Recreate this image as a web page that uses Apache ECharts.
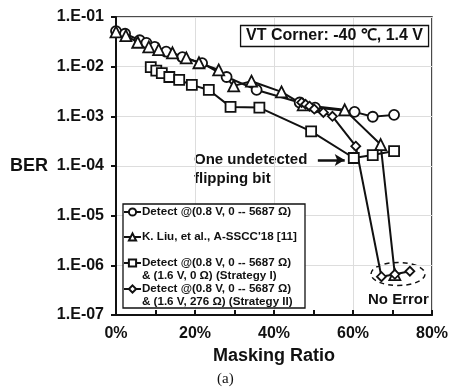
<!DOCTYPE html>
<html><head><meta charset="utf-8">
<script src="https://cdn.jsdelivr.net/npm/echarts@6/dist/echarts.min.js"></script>
<style>html,body{margin:0;padding:0;background:#fff}#c{width:451px;height:389px}</style>
</head><body><div id="c"></div>
<script>
// ---- data ----
const seriesNames = [
  'Detect @(0.8 V, 0 -- 5687 Ω)',
  'K. Liu, et al., A-SSCC\'18 [11]',
  'Detect @(0.8 V, 0 -- 5687 Ω)\n& (1.6 V, 0 Ω) (Strategy I)',
  'Detect @(0.8 V, 0 -- 5687 Ω)\n& (1.6 V, 276 Ω) (Strategy II)'
];
// [masking ratio %, BER]
const detectCircle = [[0,5.2e-2],[2.3,4.6e-2],[6,3.4e-2],[7.7,3.0e-2],[9.8,2.5e-2],[12.7,2.0e-2],[16.8,1.55e-2],[21.8,1.18e-2],[28,6.2e-3],[35.6,3.4e-3],[46.5,1.9e-3],[50.4,1.5e-3],[60.4,1.23e-3],[65,9.8e-4],[70.4,1.07e-3]];
const liuTriangle = [[0,5.0e-2],[2.5,4.2e-2],[5.5,3.1e-2],[8.3,2.5e-2],[10.8,2.2e-2],[14.3,1.9e-2],[17.8,1.5e-2],[21,1.2e-2],[26,8.6e-3],[29.8,4.1e-3],[34.3,5.1e-3],[41.9,3.1e-3],[47.4,1.7e-3],[57.9,1.35e-3],[67,2.7e-4],[70.6,6.5e-7]];
const strategy1Square = [[8.8,9.8e-3],[10.2,8.3e-3],[11.6,7.4e-3],[13.5,6.2e-3],[16,5.4e-3],[19.2,4.3e-3],[23.5,3.4e-3],[29,1.55e-3],[36.3,1.5e-3],[49.4,5.0e-4],[60.2,1.45e-4],[65,1.66e-4],[70.4,2.0e-4]];
const strategy2Diamond = [[47,1.9e-3],[48,1.75e-3],[49,1.6e-3],[50.2,1.4e-3],[52.5,1.2e-3],[54.8,1.0e-3],[60.7,2.5e-4],[67.2,5.9e-7],[70.6,6.6e-7],[74.4,7.6e-7]];
const xTicks = [0,20,40,60,80];
const yTickLabels = ['1.E-07','1.E-06','1.E-05','1.E-04','1.E-03','1.E-02','1.E-01'];

const FONT = 'Liberation Sans, Arial, sans-serif';
const chart = echarts.init(document.getElementById('c'), null, {renderer:'canvas'});

function mkSeries(name, data, symbol, size){
  return {
    name, type:'line', data, symbol, symbolSize:size,
    lineStyle:{color:'#111', width:2},
    itemStyle:{color:'#fff', borderColor:'#111', borderWidth:1.8},
    emphasis:{disabled:true}, animation:false
  };
}
const s1 = mkSeries(seriesNames[0], detectCircle, 'circle', 10);
const s2 = mkSeries(seriesNames[1], liuTriangle, 'triangle', 11);
const s3 = mkSeries(seriesNames[2], strategy1Square, 'rect', 10);
const s4 = mkSeries(seriesNames[3], strategy2Diamond, 'diamond', 9);
s3.markLine = {
  silent:true, symbol:['none','arrow'], symbolSize:[9,10],
  lineStyle:{color:'#111', width:2.5, type:'solid'}, label:{show:false},
  data:[[{coord:[51.1,1.32e-4]},{coord:[57.9,1.32e-4]}]]
};

function mkLegend(i, top){
  return {
    data:[seriesNames[i]], orient:'vertical', left:123, top:top,
    padding:0, itemGap:0, itemWidth:17, itemHeight:9, selectedMode:false, z:5,
    formatter: n => (i >= 2 ? '\n' : '') + n,
    textStyle:{fontFamily:FONT, fontWeight:'bold', fontSize:11.6, color:'#111', lineHeight:13, padding:[0,0,0,-4]}
  };
}

chart.setOption({
  animation:false,
  backgroundColor:'#fff',
  grid:{left:116, right:16, top:17, bottom:74, show:true, borderColor:'#111', borderWidth:1.5},
  title:{
    text:'VT Corner: -40 ℃, 1.4 V', right:22, top:25,
    borderColor:'#111', borderWidth:1.3, padding:[3,6,3,6],
    textStyle:{fontFamily:FONT, fontWeight:'bold', fontSize:16, color:'#111'}
  },
  legend:[mkLegend(0, 205.5), mkLegend(1, 230.5), mkLegend(2, 243.5), mkLegend(3, 269.5)],
  xAxis:{
    type:'value', min:0, max:80, interval:20,
    name:'Masking Ratio', nameLocation:'middle', nameGap:29,
    nameTextStyle:{fontFamily:FONT, fontWeight:'bold', fontSize:18, color:'#111'},
    axisLine:{lineStyle:{color:'#111', width:2}},
    axisTick:{show:true, inside:true, length:5, lineStyle:{color:'#111', width:2}},
    minorTick:{show:true, splitNumber:2, length:5, lineStyle:{color:'#111', width:2}},
    axisLabel:{margin:11, fontFamily:FONT, fontWeight:'bold', fontSize:16, color:'#111',
      formatter:v => xTicks.includes(v) ? v + '%' : ''},
    splitLine:{show:true, lineStyle:{color:'#ddd', width:1}}
  },
  yAxis:{
    type:'log', logBase:10, min:1e-7, max:1e-1,
    name:'BER', nameLocation:'middle', nameRotate:0, nameGap:68,
    nameTextStyle:{fontFamily:FONT, fontWeight:'bold', fontSize:18, color:'#111', align:'right'},
    axisLine:{lineStyle:{color:'#111', width:2}},
    axisTick:{show:true, inside:false, length:5, lineStyle:{color:'#111', width:2}},
    axisLabel:{margin:12, fontFamily:FONT, fontWeight:'bold', fontSize:16, color:'#111',
      formatter:v => { const e = Math.round(Math.log10(v)); return yTickLabels[e+7] || ''; }},
    splitLine:{show:true, lineStyle:{color:'#ddd', width:1}}
  },
  graphic:[
    {type:'rect', shape:{x:123, y:204, width:182, height:104}, z:4, silent:true,
     style:{fill:'#fff', stroke:'#111', lineWidth:1.3}},
    {type:'text', left:194, top:150, silent:true,
     style:{text:'One undetected\nflipping bit', fontFamily:FONT, fontWeight:'bold', fontSize:15, fill:'#111', lineHeight:19}},
    {type:'ellipse', shape:{cx:398, cy:274, rx:27, ry:11.5}, silent:true,
     style:{fill:'none', stroke:'#111', lineWidth:1.5, lineDash:[5,4]}},
    {type:'text', left:368, top:292, silent:true,
     style:{text:'No Error', fontFamily:FONT, fontWeight:'bold', fontSize:15, fill:'#111'}},
    {type:'text', left:217, top:372, silent:true,
     style:{text:'(a)', fontFamily:'Liberation Serif, Times New Roman, serif', fontSize:15, fill:'#111'}}
  ],
  series:[s1, s2, s3, s4]
});
</script></body></html>
